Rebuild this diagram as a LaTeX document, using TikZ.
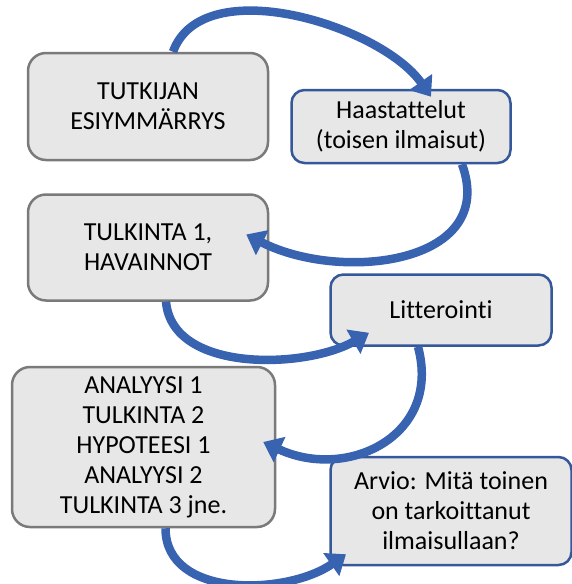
\documentclass[tikz,border=0pt]{standalone}
\usepackage{fontspec}
\setmainfont[Ligatures=NoCommon]{Carlito}
\usepackage{xcolor}
\usepackage{tikz}
\usetikzlibrary{positioning,arrows.meta}

\definecolor{boxfill}{HTML}{E8E7E8}
\definecolor{greyedge}{HTML}{7A7A7A}
\definecolor{blueedge}{HTML}{34589A}
\definecolor{arrowblue}{HTML}{3763B0}

\begin{document}
\begin{tikzpicture}[x=1pt, y=1pt,
    every text node part/.style={align=center},
    greybox/.style={draw=greyedge, fill=boxfill, line width=2.5pt, rounded corners=18pt,
      inner sep=3pt, font=\fontsize{26}{30}\selectfont},
    bluebox/.style={greybox, draw=blueedge, rounded corners=13pt},
    flow/.style={draw=arrowblue, line width=8.5pt, -{Triangle[width=27pt, length=18pt]}}]
  \useasboundingbox (0,0) rectangle (571,-584);

  \node[greybox, minimum width=240pt, minimum height=107pt] at (148,-106.5) (tutkija) {TUTKIJAN\\ESIYMMÄRRYS};
  \node[bluebox, minimum width=219pt, minimum height=73pt, node distance=21pt, right=of tutkija, yshift=-20pt] (haast) {Haastattelut\\(toisen ilmaisut)};
  \node[greybox, minimum width=240pt, minimum height=106pt, node distance=32pt, below=of tutkija] (tulk1) {TULKINTA 1,\\HAVAINNOT};
  \node[bluebox, minimum width=221pt, minimum height=71pt, node distance=60pt, right=of tulk1, yshift=-62.5pt] (litt) {Litterointi};
  \node[greybox, minimum width=263pt, minimum height=160pt, node distance=64pt, below=of tulk1, xshift=-4.5pt] (analyysi) {ANALYYSI 1\\TULKINTA 2\\HYPOTEESI 1\\ANALYYSI 2\\TULKINTA 3 jne.};
  \node[bluebox, minimum width=241pt, minimum height=108pt, node distance=53pt, right=of analyysi, yshift=-64pt] (arvio) {Arvio: Mitä toinen\\on tarkoittanut\\ilmaisullaan?};

  \draw[flow] ([xshift=25pt]tutkija.north) to[out=70, in=125, looseness=0.85] ([xshift=30pt, yshift=-8pt]haast.north);
  \draw[flow] ([xshift=61pt]haast.south) to[out=-70, in=-27, looseness=1.2] ([xshift=-23pt, yshift=13pt]tulk1.east);
  \draw[flow] ([xshift=18pt]tulk1.south) to[out=-85, in=210, looseness=0.9] ([xshift=-72pt, yshift=14pt]litt.south);
  \draw[flow] ([xshift=-23pt]litt.south) to[out=-75, in=-25, looseness=1.3] ([xshift=-13pt, yshift=5pt]analyysi.east);
  \draw[flow] ([xshift=22pt]analyysi.south) to[out=-90, in=215, looseness=1.0] ([xshift=-105pt, yshift=12pt]arvio.south);
\end{tikzpicture}
\end{document}
